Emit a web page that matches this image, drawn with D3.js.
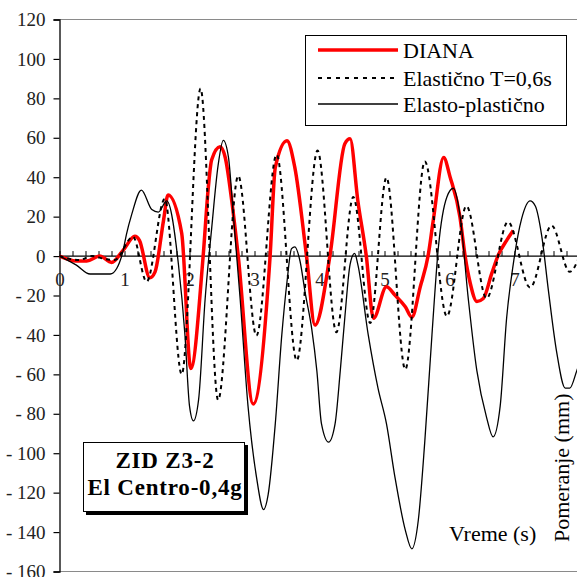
<!DOCTYPE html>
<html>
<head>
<meta charset="utf-8">
<script src="https://cdn.jsdelivr.net/npm/d3@7"></script>
<style>
  html, body { margin: 0; padding: 0; background: #fff; }
  svg text { font-family: "Liberation Serif", "Times New Roman", serif; }
</style>
</head>
<body>
<svg id="chart" width="577" height="577"></svg>
<script>
// ── Data ────────────────────────────────────────────────────────────────────

const yTicks = [-160, -140, -120, -100, -80, -60, -40, -20, 0, 20, 40, 60, 80, 100, 120];
const xLabels = [0, 1, 2, 3, 4, 5, 6, 7];

// DIANA
const dianaT = [0, 0.26, 0.42, 0.62, 0.8, 0.98, 1.16, 1.23, 1.39, 1.47, 1.6, 1.67, 1.88, 2.02, 2.21, 2.29,
  2.34, 2.47, 2.55, 2.65, 2.75, 2.98, 3.24, 3.32, 3.5, 3.62, 3.8, 3.93, 4.16, 4.39, 4.47, 4.59, 4.72,
  4.83, 5.03, 5.16, 5.32, 5.42, 5.55, 5.67, 5.75, 5.91, 6.01, 6.16, 6.24, 6.32, 6.42, 6.52, 6.65, 6.75,
  6.88, 6.98];
const dianaV = [0, -2.5, -2.5, 0, -3.2, 3, 10, 8, -11, -8, 18, 31, 11.6, -57, 0, 35,
  48.7, 55.5, 50, 28, 0, -75, 0, 45, 58.5, 45, 0, -35, 0, 57, 59.5, 28, 0,
  -31.6, -15.6, -19.8, -25.7, -31, -15.6, 0, 18, 50, 40, 20, 0, -13.9, -23, -21.5, -8.8, 0.5,
  8, 13];

// Elastično T=0,6s
const elasticT = [0, 0.3, 0.5, 0.7, 0.85, 1.13, 1.34, 1.62, 1.88, 2.17, 2.44, 2.75, 3.03, 3.34, 3.65,
  3.97, 4.26, 4.52, 4.78, 5.03, 5.32, 5.62, 5.96, 6.26, 6.57, 6.9, 7.24, 7.57, 7.85, 8.0];
const elasticV = [0, -2, 0, -1.5, -2, 9.8, -13, 29, -60, 85, -73, 40.7, -40.4, 51.5, -53,
  53.5, -38.6, 30, -34, 39.8, -57.5, 48, -30.5, 25.4, -21.4, 17.3, -16, 15.5, -8, 0];

// Elasto-plastično
const plasticT = [0, 0.26, 0.47, 0.78, 0.88, 0.98, 1.03, 1.11, 1.26, 1.42, 1.52, 1.65, 1.83, 1.93, 2.0,
  2.06, 2.14, 2.24, 2.34, 2.44, 2.52, 2.6, 2.67, 2.78, 2.9, 3.03, 3.14, 3.21, 3.32, 3.42, 3.5, 3.57,
  3.62, 3.7, 3.78, 3.88, 3.96, 4.03, 4.14, 4.24, 4.32, 4.39, 4.47, 4.54, 4.59, 4.75, 4.9, 5.03, 5.16,
  5.32, 5.42, 5.52, 5.62, 5.73, 5.83, 5.96, 6.06, 6.16, 6.29, 6.42, 6.57, 6.67, 6.78, 6.88, 6.98,
  7.11, 7.24, 7.32, 7.42, 7.52, 7.65, 7.78, 7.85, 7.96, 8.05];
const plasticV = [0, -4.6, -9.1, -9.1, -6.3, 3, 11, 21, 33.5, 23.6, 22.3, 28, -4.3, -40, -76,
  -83.6, -72.8, -22, 13.7, 46, 58.7, 50, 22.7, -22, -76, -112, -128.6, -121, -85, -40, -13, 3.8,
  4.7, -2.5, -18.7, -36.8, -58.4, -85, -94.4, -85, -58, -31, -4.3, 1.4, -4.3, -40, -67, -85, -112,
  -139, -148.5, -134, -94, -40, 4.7, 30, 34.4, 21, -22, -58, -81.8, -91.7, -76, -31, -4.3,
  19, 28, 25.4, 10, -17, -49, -67, -67, -58, -50];

const seriesNames = ['DIANA', 'Elastično T=0,6s', 'Elasto-plastično'];

// ── Chart ──────────────────────────────────────────────────────────────────

const svg = d3.select('#chart');
const plotLeft = 59.5, plotTop = 19.5, plotBottom = 571.5;
const serif = '"Liberation Serif", "Times New Roman", serif';

const x = d3.scaleLinear().domain([0, 8]).range([plotLeft, plotLeft + 520]);
const y = d3.scaleLinear().domain([-160, 120]).range([plotBottom, plotTop]);

svg.append('defs').append('clipPath').attr('id', 'plot')
  .append('rect').attr('x', plotLeft).attr('y', plotTop).attr('width', 600).attr('height', plotBottom - plotTop);

// plot frame (grey top / bottom lines)
svg.append('line').attr('x1', plotLeft).attr('x2', 600).attr('y1', plotTop).attr('y2', plotTop)
  .attr('stroke', '#8a8a8a').attr('stroke-width', 1.2);
svg.append('line').attr('x1', plotLeft).attr('x2', 600).attr('y1', plotBottom).attr('y2', plotBottom)
  .attr('stroke', '#8a8a8a').attr('stroke-width', 1.2);

// y axis
const yAxis = d3.axisLeft(y).tickValues(yTicks).tickSize(6).tickPadding(8)
  .tickFormat(d => d < 0 ? '-\u00a0' + Math.abs(d) : String(d));
const gy = svg.append('g').attr('transform', `translate(${plotLeft},0)`).call(yAxis);
gy.select('.domain').attr('stroke', '#000').attr('stroke-width', 1.3);
gy.selectAll('.tick line').attr('stroke', '#000').attr('stroke-width', 1.2);
gy.selectAll('.tick text').attr('font-size', 19).attr('fill', '#222').attr('font-family', serif);

// x axis on the zero line: minor ticks every 0.2 s, labels on whole seconds
const gxMinor = svg.append('g').attr('transform', `translate(0,${y(0)})`)
  .call(d3.axisBottom(x).tickValues(d3.range(0, 8.21, 0.2)).tickSizeInner(-5).tickSizeOuter(0).tickFormat(''));
gxMinor.select('.domain').attr('stroke', '#000').attr('stroke-width', 1.3)
  .attr('d', `M${plotLeft},0H600`);
gxMinor.selectAll('.tick line').attr('stroke', '#000').attr('stroke-width', 1);

const gx = svg.append('g').attr('transform', `translate(0,${y(0)})`)
  .call(d3.axisBottom(x).tickValues(xLabels).tickSize(0).tickPadding(16));
gx.select('.domain').remove();
gx.selectAll('.tick text').attr('font-size', 19).attr('fill', '#222').attr('font-family', serif);

// series
const plot = svg.append('g').attr('clip-path', 'url(#plot)');
const line = d3.line().x(d => x(d[0])).y(d => y(d[1])).curve(d3.curveMonotoneX);

plot.append('path').datum(d3.zip(dianaT, dianaV))
  .attr('d', line).attr('fill', 'none').attr('stroke', '#ff0000').attr('stroke-width', 3.5);
plot.append('path').datum(d3.zip(elasticT, elasticV))
  .attr('d', line).attr('fill', 'none').attr('stroke', '#000')
  .attr('stroke-width', 2).attr('stroke-dasharray', '4,4');
plot.append('path').datum(d3.zip(plasticT, plasticV))
  .attr('d', line).attr('fill', 'none').attr('stroke', '#000').attr('stroke-width', 1.3);

// ── Legend ─────────────────────────────────────────────────────────────────

const legend = svg.append('g');
legend.append('rect').attr('x', 305.5).attr('y', 35.5).attr('width', 261).attr('height', 90)
  .attr('fill', '#fff').attr('stroke', '#000').attr('stroke-width', 1);
const legStyles = [
  { stroke: '#ff0000', width: 3.5, dash: null },
  { stroke: '#000', width: 2, dash: '4,5' },
  { stroke: '#000', width: 1.3, dash: null }
];
const legY = [50, 78, 104];
seriesNames.forEach((name, i) => {
  legend.append('line').attr('x1', 318).attr('x2', 398).attr('y1', legY[i]).attr('y2', legY[i])
    .attr('stroke', legStyles[i].stroke).attr('stroke-width', legStyles[i].width)
    .attr('stroke-dasharray', legStyles[i].dash);
  legend.append('text').attr('x', 403).attr('y', legY[i]).attr('dy', '0.35em')
    .attr('font-size', 22).attr('font-family', serif).attr('fill', '#000').text(name);
});

// ── Annotation box ─────────────────────────────────────────────────────────

svg.append('rect').attr('x', 86).attr('y', 445).attr('width', 162).attr('height', 70).attr('fill', '#000');
svg.append('rect').attr('x', 83.5).attr('y', 442.5).attr('width', 161).attr('height', 69)
  .attr('fill', '#fff').attr('stroke', '#000').attr('stroke-width', 1);
svg.append('text').attr('x', 165).attr('y', 468).attr('text-anchor', 'middle')
  .attr('font-size', 23).attr('font-weight', 'bold').attr('letter-spacing', 0.8)
  .attr('font-family', serif).text('ZID Z3-2');
svg.append('text').attr('x', 165).attr('y', 495).attr('text-anchor', 'middle')
  .attr('font-size', 23).attr('font-weight', 'bold').attr('letter-spacing', 0.8)
  .attr('font-family', serif).text('El Centro-0,4g');

// ── Axis titles ────────────────────────────────────────────────────────────

svg.append('text').attr('x', 449).attr('y', 541).attr('font-size', 22)
  .attr('font-family', serif).text('Vreme (s)');
svg.append('text').attr('transform', 'translate(569,542) rotate(-90)')
  .attr('font-size', 22).attr('font-family', serif).text('Pomeranje (mm)');
</script>
</body>
</html>
